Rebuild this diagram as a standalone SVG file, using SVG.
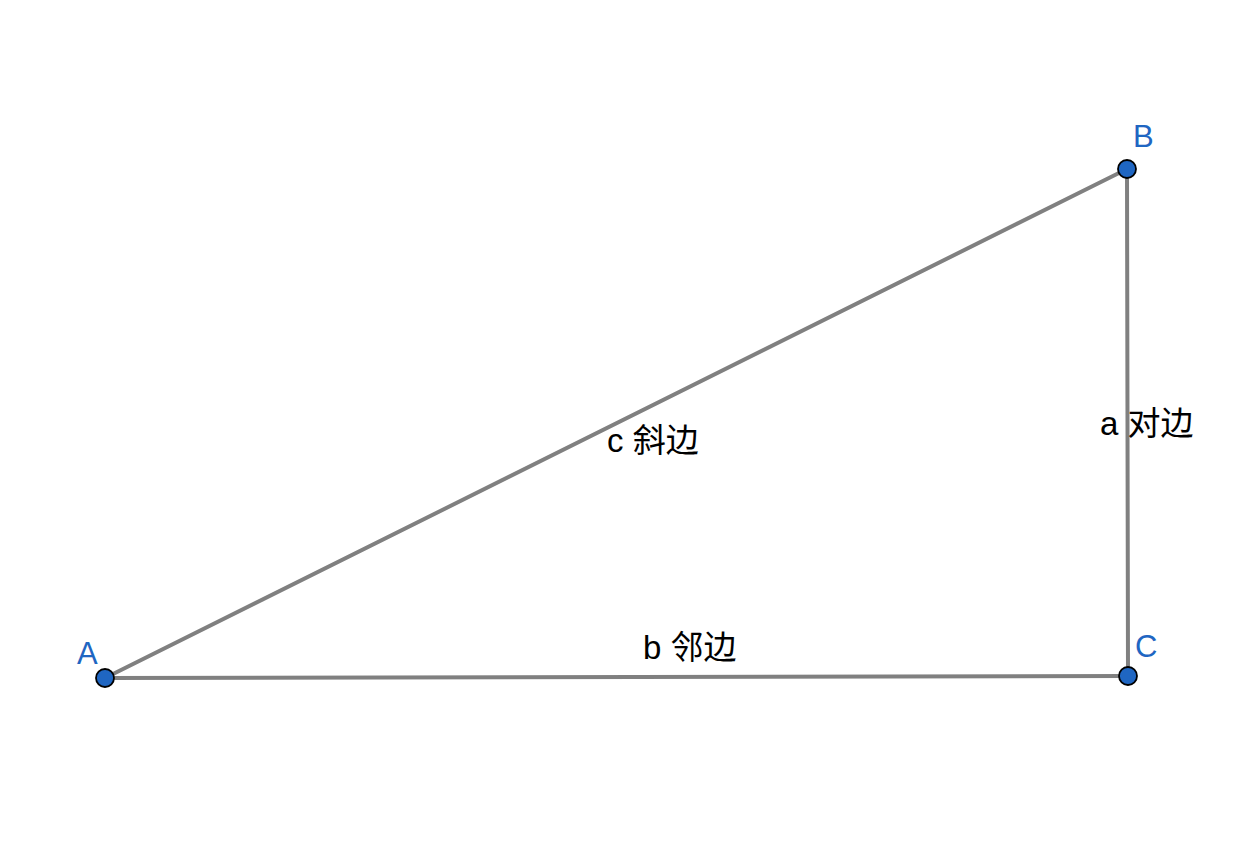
<svg xmlns="http://www.w3.org/2000/svg" width="1258" height="850" viewBox="0 0 1258 850">
<style>
.edge{stroke:#808080;stroke-width:4;fill:none;stroke-linecap:round}
.pt{fill:#1f66c2;stroke:#000;stroke-width:1.8}
.pl{font-family:"Liberation Sans","Noto Sans CJK SC",sans-serif;font-size:31px;fill:#1f66c2}
.el{font-family:"Liberation Sans","Noto Sans CJK SC",sans-serif;font-size:33px;fill:#000}
</style>
<rect width="1258" height="850" fill="#fff"/>
<g id="connectors">
<line class="edge" x1="105" y1="678" x2="1127" y2="169"/>
<line class="edge" x1="1127" y1="169" x2="1128" y2="676"/>
<line class="edge" x1="105" y1="678" x2="1128" y2="676"/>
</g>
<g id="label-c"><text class="el" x="607" y="452">c 斜边</text></g>
<g id="label-a"><text class="el" x="1100" y="435">a 对边</text></g>
<g id="label-b"><text class="el" x="643" y="659">b 邻边</text></g>
<g id="A"><circle class="pt" cx="105" cy="678" r="9"/><text class="pl" x="77" y="664">A</text></g>
<g id="B"><circle class="pt" cx="1127" cy="169" r="9"/><text class="pl" x="1133" y="147">B</text></g>
<g id="C"><circle class="pt" cx="1128" cy="676" r="9"/><text class="pl" x="1135" y="657">C</text></g>
</svg>
